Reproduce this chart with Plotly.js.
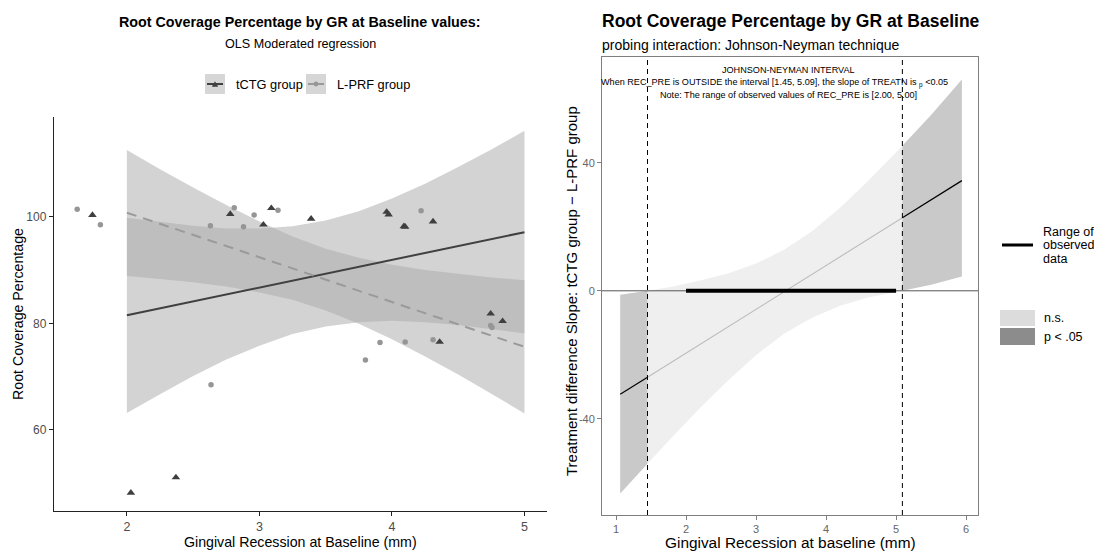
<!DOCTYPE html>
<html><head><meta charset="utf-8">
<script src="https://cdn.plot.ly/plotly-3.0.1.min.js"></script>
<style>html,body{margin:0;padding:0;background:#fff}#chart{width:1094px;height:551px}</style>
</head><body><div id="chart"></div>
<script>
// ---------- LEFT PANEL DATA (OLS moderated regression) ----------
const tctgX = [1.74, 2.03, 2.37, 2.78, 3.03, 3.09, 3.39, 3.96, 3.975, 4.09, 4.10, 4.31, 4.36, 4.745, 4.835];
const tctgY = [100.3, 48.2, 51.1, 100.5, 98.5, 101.6, 99.6, 100.9, 100.4, 98.2, 98.1, 99.1, 76.5, 81.8, 80.4];
const lprfX = [1.625, 1.80, 2.63, 2.635, 2.81, 2.88, 2.96, 3.14, 3.80, 3.91, 4.10, 4.22, 4.31, 4.745, 4.755];
const lprfY = [101.4, 98.5, 98.3, 68.5, 101.7, 98.1, 100.3, 101.2, 73.1, 76.4, 76.5, 101.1, 76.9, 79.6, 79.2];

const fitX    = [2.0, 2.25, 2.5, 2.75, 3.0, 3.25, 3.5, 3.75, 4.0, 4.25, 4.5, 4.75, 5.0];
const tctgFit = [81.5, 82.8, 84.1, 85.4, 86.7, 88.0, 89.3, 90.6, 91.9, 93.2, 94.5, 95.8, 97.1];
const tctgLo  = [63.2, 66.7, 70.1, 73.2, 75.8, 78.0, 79.4, 80.2, 80.5, 80.2, 79.7, 78.9, 78.1];
const tctgHi  = [99.8, 99.0, 98.3, 97.8, 97.8, 98.2, 99.3, 101.0, 103.4, 106.2, 109.3, 112.6, 116.1];
const lprfFit = [100.75, 98.7, 96.6, 94.5, 92.4, 90.3, 88.2, 86.1, 84.0, 81.8, 79.7, 77.6, 75.6];
const lprfLo  = [88.9, 88.3, 87.7, 86.9, 85.8, 84.4, 82.4, 79.9, 77.0, 73.8, 70.4, 66.8, 63.1];
const lprfHi  = [112.5, 108.9, 105.5, 102.2, 99.1, 96.3, 94.0, 92.3, 91.0, 90.0, 89.3, 88.6, 88.1];

const leftXTicks = [2, 3, 4, 5];
const leftYTicks = [60, 80, 100];
const groupNames = ["tCTG group", "L-PRF group"];

// ---------- RIGHT PANEL DATA (Johnson-Neyman) ----------
const jnX   = [1.06, 1.45, 1.8, 2.2, 2.6, 3.0, 3.4, 3.8, 4.2, 4.6, 5.09, 5.5, 5.94];
const jnEst = [-32.3, -27.0, -22.2, -16.7, -11.3, -5.8, -0.3, 5.1, 10.6, 16.1, 22.8, 28.4, 34.4];
const jnLo  = [-63.3, -54.0, -45.7, -36.6, -28.0, -20.1, -13.4, -8.4, -4.7, -2.1, 0.0, 1.9, 4.5];
const jnHi  = [-1.2, 0.0, 1.3, 3.2, 5.4, 8.5, 12.8, 18.6, 25.9, 34.3, 45.3, 54.9, 66.0];
const jnBounds = [1.45, 5.09];
const observedRange = [2.00, 5.00];
const rightXTicks = [1, 2, 3, 4, 5, 6];
const rightYTicks = [-40, 0, 40];

// ---------- helpers ----------
const W = 1094, H = 551;
const P = px => px / W;
const Q = py => 1 - py / H;
const FONT = "Liberation Sans, Arial, sans-serif";

function band(xs, lo, hi) {
  return { x: xs.concat(xs.slice().reverse()), y: hi.concat(lo.slice().reverse()) };
}
function seg(xs, ys, a, b) {
  const ox = [], oy = [];
  xs.forEach((v, i) => { if (v >= a - 1e-9 && v <= b + 1e-9) { ox.push(v); oy.push(ys[i]); } });
  return { x: ox, y: oy };
}

const ribbonFill = "rgba(170,170,170,0.52)";
const traces = [];

// left ribbons
const bA = band(fitX, tctgLo, tctgHi);
const bB = band(fitX, lprfLo, lprfHi);
traces.push({ x: bA.x, y: bA.y, xaxis: "x", yaxis: "y", type: "scatter", mode: "lines", fill: "toself", fillcolor: ribbonFill, line: { width: 0 }, hoverinfo: "skip", showlegend: false });
traces.push({ x: bB.x, y: bB.y, xaxis: "x", yaxis: "y", type: "scatter", mode: "lines", fill: "toself", fillcolor: ribbonFill, line: { width: 0 }, hoverinfo: "skip", showlegend: false });
// left fit lines
traces.push({ x: fitX, y: tctgFit, xaxis: "x", yaxis: "y", type: "scatter", mode: "lines", line: { color: "#404040", width: 2 }, name: groupNames[0], showlegend: false });
traces.push({ x: fitX, y: lprfFit, xaxis: "x", yaxis: "y", type: "scatter", mode: "lines", line: { color: "#9a9a9a", width: 2, dash: "10px,7px" }, name: groupNames[1], showlegend: false });
// left points
traces.push({ x: lprfX, y: lprfY, xaxis: "x", yaxis: "y", type: "scatter", mode: "markers", marker: { symbol: "circle", size: 5.5, color: "#969696" }, name: groupNames[1], showlegend: false });
traces.push({ x: tctgX, y: tctgY, xaxis: "x", yaxis: "y", type: "scatter", mode: "markers", marker: { symbol: "triangle-up", size: 7.5, color: "#3f3f3f" }, name: groupNames[0], showlegend: false });

// right bands
function part(a, b) {
  return { x: seg(jnX, jnEst, a, b).x, lo: seg(jnX, jnLo, a, b).y, hi: seg(jnX, jnHi, a, b).y };
}
const lowSeg = part(-99, jnBounds[0]);
const midSeg = part(jnBounds[0], jnBounds[1]);
const highSeg = part(jnBounds[1], 99);
[[midSeg, "#efefef"], [lowSeg, "#c9c9c9"], [highSeg, "#c9c9c9"]].forEach(([s, c]) => {
  const b = band(s.x, s.lo, s.hi);
  traces.push({ x: b.x, y: b.y, xaxis: "x2", yaxis: "y2", type: "scatter", mode: "lines", fill: "toself", fillcolor: c, line: { width: 0 }, hoverinfo: "skip", showlegend: false });
});
// right estimate line
const eLow = seg(jnX, jnEst, -99, jnBounds[0]);
const eMid = seg(jnX, jnEst, jnBounds[0], jnBounds[1]);
const eHigh = seg(jnX, jnEst, jnBounds[1], 99);
traces.push({ x: eMid.x, y: eMid.y, xaxis: "x2", yaxis: "y2", type: "scatter", mode: "lines", line: { color: "#bdbdbd", width: 1.1 }, showlegend: false });
traces.push({ x: eLow.x, y: eLow.y, xaxis: "x2", yaxis: "y2", type: "scatter", mode: "lines", line: { color: "#000", width: 1.2 }, showlegend: false });
traces.push({ x: eHigh.x, y: eHigh.y, xaxis: "x2", yaxis: "y2", type: "scatter", mode: "lines", line: { color: "#000", width: 1.2 }, showlegend: false });

// ---------- shapes ----------
const shapes = [];
shapes.push({ type: "line", xref: "x2 domain", yref: "y2", x0: 0, x1: 1, y0: 0, y1: 0, line: { color: "#555", width: 1 }, layer: "above" });
shapes.push({ type: "line", xref: "x2", yref: "y2", x0: observedRange[0], x1: observedRange[1], y0: 0, y1: 0, line: { color: "#000", width: 4 }, layer: "above" });
jnBounds.forEach(b => shapes.push({ type: "line", xref: "x2", yref: "y2 domain", x0: b, x1: b, y0: 0, y1: 1, line: { color: "#000", width: 1, dash: "5px,4px" }, layer: "above" }));

// left legend keys
shapes.push({ type: "rect", xref: "paper", yref: "paper", x0: P(205), x1: P(225), y0: Q(94), y1: Q(74), fillcolor: "#d6d6d6", line: { width: 0 } });
shapes.push({ type: "line", xref: "paper", yref: "paper", x0: P(207), x1: P(223), y0: Q(84), y1: Q(84), line: { color: "#404040", width: 2 } });
shapes.push({ type: "path", xref: "paper", yref: "paper", path: `M ${P(211.8)},${Q(86.8)} L ${P(218.2)},${Q(86.8)} L ${P(215)},${Q(81.2)} Z`, fillcolor: "#3f3f3f", line: { width: 0 } });
shapes.push({ type: "rect", xref: "paper", yref: "paper", x0: P(306), x1: P(326), y0: Q(94), y1: Q(74), fillcolor: "#d6d6d6", line: { width: 0 } });
shapes.push({ type: "line", xref: "paper", yref: "paper", x0: P(308), x1: P(324), y0: Q(84), y1: Q(84), line: { color: "#9a9a9a", width: 2 } });
shapes.push({ type: "circle", xref: "paper", yref: "paper", x0: P(313.6), x1: P(318.4), y0: Q(86.4), y1: Q(81.6), fillcolor: "#969696", line: { width: 0 } });
// right legend keys
shapes.push({ type: "line", xref: "paper", yref: "paper", x0: P(1002), x1: P(1033), y0: Q(245), y1: Q(245), line: { color: "#000", width: 3 } });
shapes.push({ type: "rect", xref: "paper", yref: "paper", x0: P(1000), x1: P(1035), y0: Q(326), y1: Q(310), fillcolor: "#dcdcdc", line: { width: 0 } });
shapes.push({ type: "rect", xref: "paper", yref: "paper", x0: P(1000), x1: P(1035), y0: Q(345), y1: Q(328), fillcolor: "#8c8c8c", line: { width: 0 } });

// ---------- annotations ----------
function ann(text, x, y, size, opts) {
  return Object.assign({ text: text, xref: "paper", yref: "paper", x: P(x), y: Q(y), xanchor: "center", yanchor: "middle", showarrow: false, font: { family: FONT, size: size, color: "#000" } }, opts || {});
}
const annotations = [
  ann("<b>Root Coverage Percentage by GR at Baseline values:</b>", 300, 22, 14.3),
  ann("OLS Moderated regression", 300, 44, 12.6),
  ann(groupNames[0], 234, 84, 12.8, { xanchor: "left" }),
  ann(groupNames[1], 335, 84, 12.8, { xanchor: "left" }),
  ann("Root Coverage Percentage", 18, 314, 14.2, { textangle: -90 }),
  ann("Gingival Recession at Baseline (mm)", 300, 542, 14.2),
  ann("<b>Root Coverage Percentage by GR at Baseline</b>", 600, 21, 17.5, { xanchor: "left" }),
  ann("probing interaction: Johnson-Neyman technique", 600, 45, 14, { xanchor: "left" }),
  ann("JOHNSON-NEYMAN INTERVAL", 788, 70, 9.1),
  ann("When REC_PRE is OUTSIDE the interval [1.45, 5.09], the slope of TREATN is <sub>p</sub> <0.05", 774, 82.5, 9.1),
  ann("Note: The range of observed values of REC_PRE is [2.00, 5.00]", 788, 95, 9.1),
  ann("Treatment difference Slope: tCTG group \u2212 L-PRF group", 571, 291, 15, { textangle: -90 }),
  ann("Gingival Recession at baseline (mm)", 790, 542, 15.4),
  ann("Range of", 1041, 232, 12.5, { xanchor: "left" }),
  ann("observed", 1041, 245.5, 12.5, { xanchor: "left" }),
  ann("data", 1041, 259, 12.5, { xanchor: "left" }),
  ann("n.s.", 1042, 318, 12.5, { xanchor: "left" }),
  ann("p < .05", 1042, 337, 12.5, { xanchor: "left" })
];

const layout = {
  width: W, height: H,
  margin: { l: 0, r: 0, t: 0, b: 0 },
  paper_bgcolor: "#fff", plot_bgcolor: "rgba(0,0,0,0)",
  showlegend: false,
  font: { family: FONT },
  xaxis: {
    domain: [P(54), P(547)], range: [1.45, 5.17], anchor: "y",
    tickvals: leftXTicks, ticktext: leftXTicks.map(String),
    showgrid: false, zeroline: false, showline: true, linecolor: "#222", linewidth: 1.2,
    ticks: "outside", ticklen: 4, tickcolor: "#222", tickwidth: 1,
    tickfont: { family: FONT, size: 12.5, color: "#4d4d4d" }
  },
  yaxis: {
    domain: [Q(511), Q(117)], range: [44.8, 118.7], anchor: "x",
    tickvals: leftYTicks, ticktext: leftYTicks.map(String),
    showgrid: false, zeroline: false, showline: true, linecolor: "#222", linewidth: 1.2,
    ticks: "outside", ticklen: 4, tickcolor: "#222", tickwidth: 1,
    tickfont: { family: FONT, size: 12, color: "#4d4d4d" }
  },
  xaxis2: {
    domain: [P(602), P(978)], range: [0.8, 6.17], anchor: "y2",
    tickvals: rightXTicks, ticktext: rightXTicks.map(String),
    showgrid: false, zeroline: false, showline: true, mirror: true, linecolor: "#7f7f7f", linewidth: 1,
    ticks: "outside", ticklen: 4, tickcolor: "#7f7f7f",
    tickfont: { family: FONT, size: 11, color: "#666" }
  },
  yaxis2: {
    domain: [Q(515), Q(57)], range: [-70, 73], anchor: "x2",
    tickvals: rightYTicks, ticktext: rightYTicks.map(String),
    showgrid: false, zeroline: false, showline: true, mirror: true, linecolor: "#7f7f7f", linewidth: 1,
    ticks: "outside", ticklen: 4, tickcolor: "#7f7f7f",
    tickfont: { family: FONT, size: 11, color: "#666" }
  },
  shapes: shapes,
  annotations: annotations
};

Plotly.newPlot("chart", traces, layout, { staticPlot: true, displayModeBar: false });
</script>
</body></html>
